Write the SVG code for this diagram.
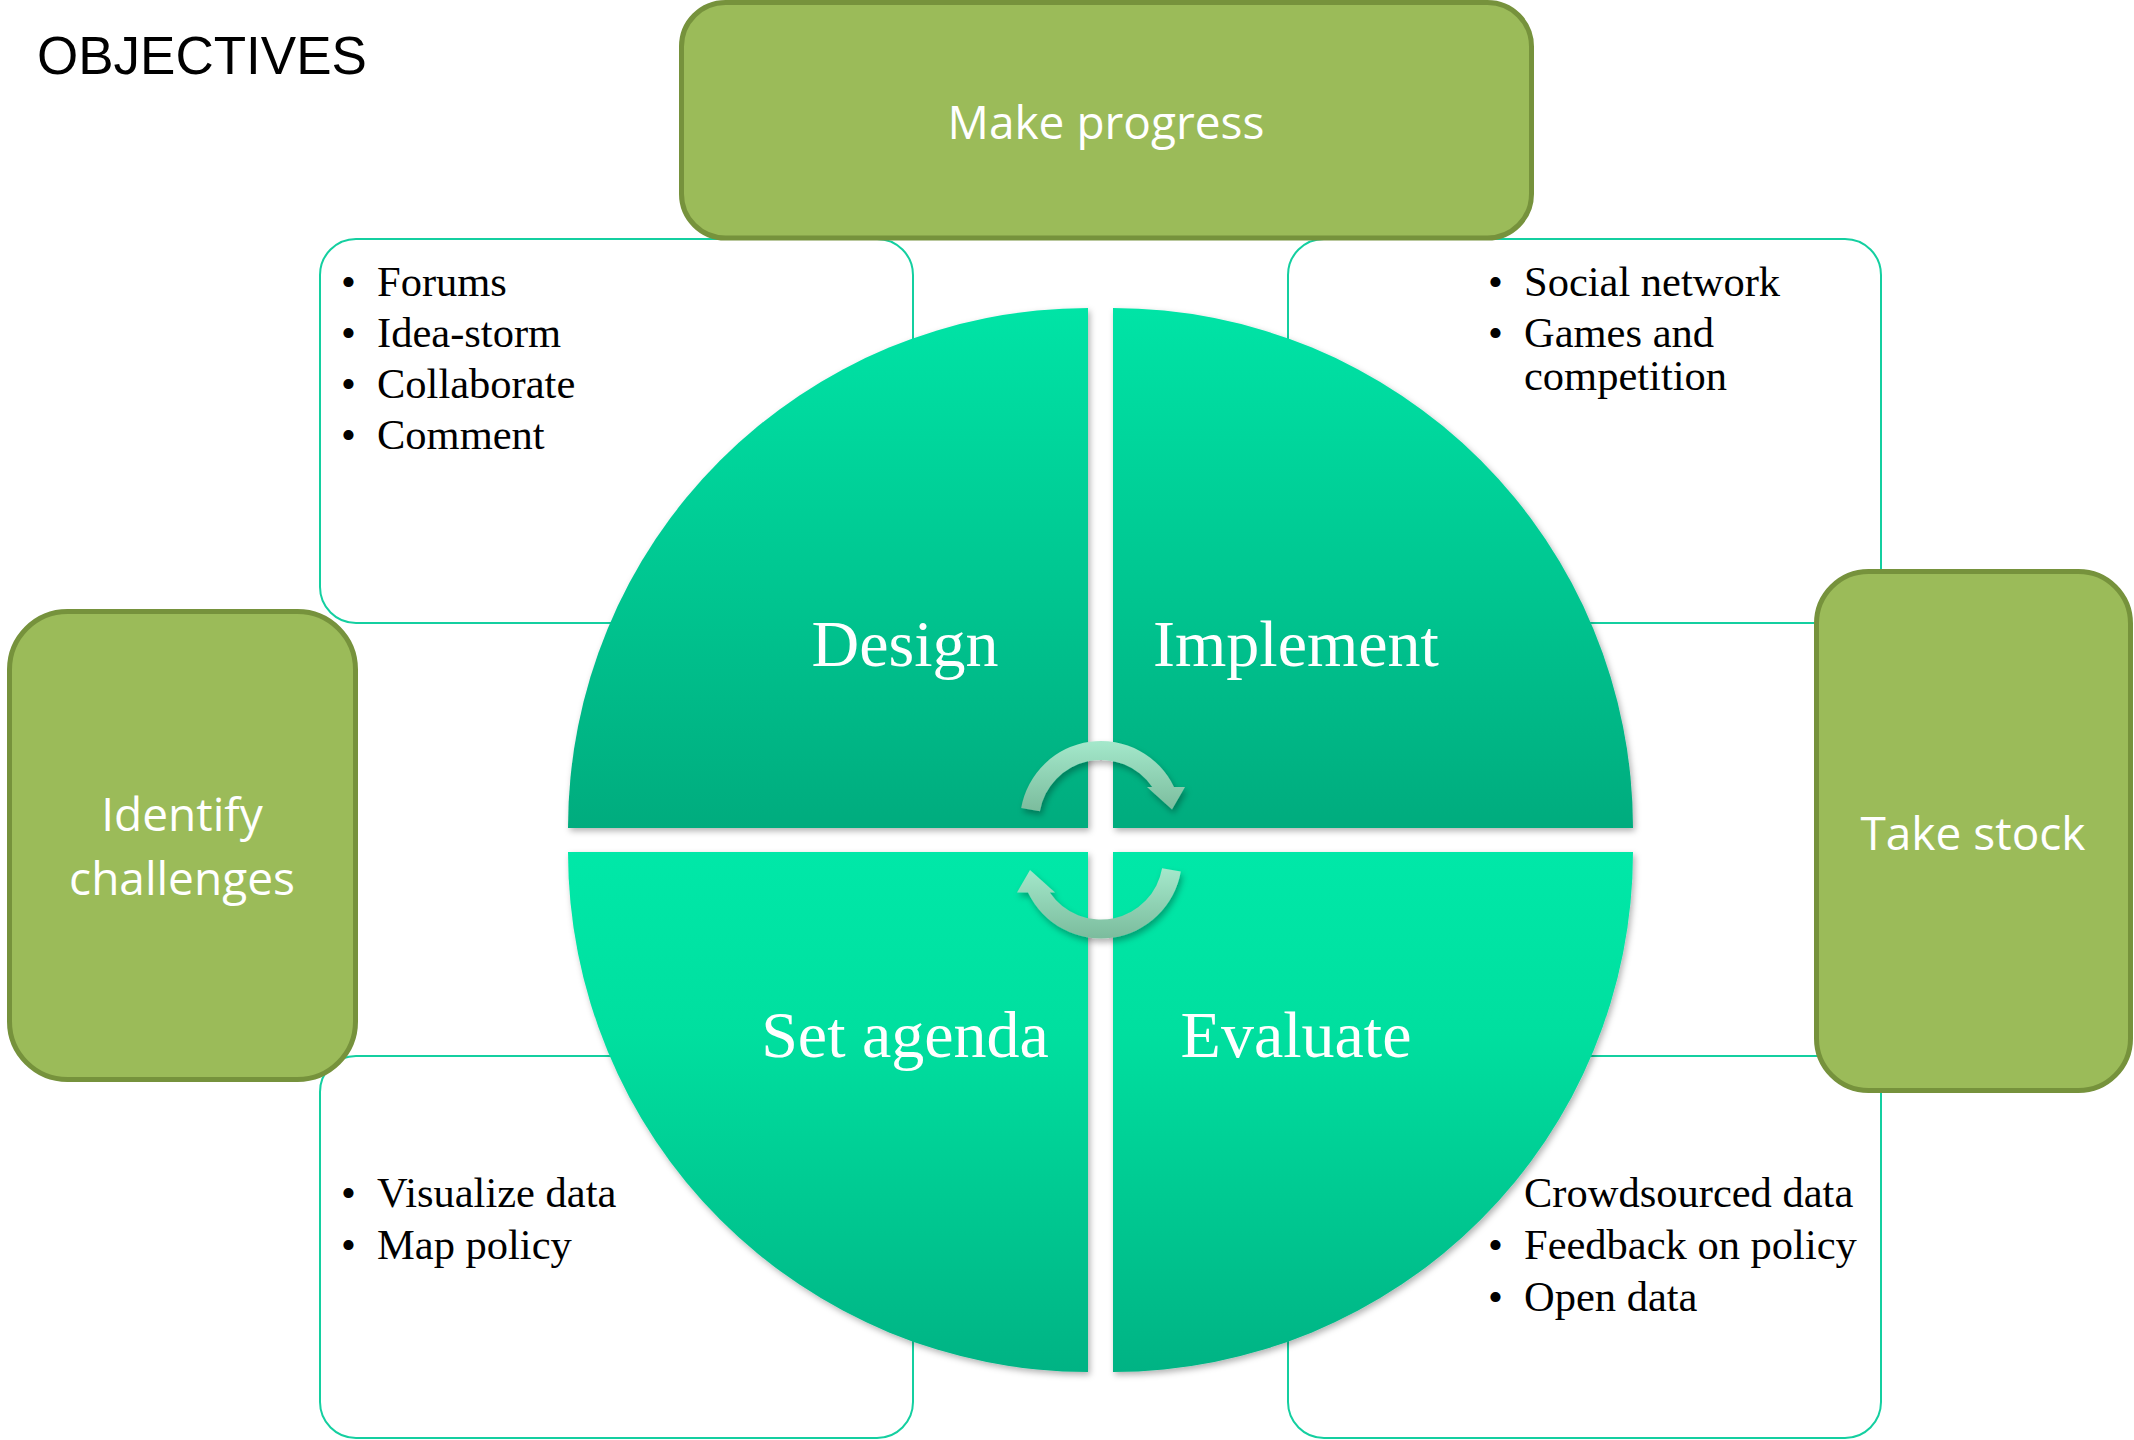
<svg xmlns="http://www.w3.org/2000/svg" width="2134" height="1440" viewBox="0 0 2134 1440">
  <defs>
    <style>
      .panel { fill: #ffffff; stroke: #14CFA0; stroke-width: 2; }
      .goal { fill: #9BBB59; stroke: #76923C; stroke-width: 5; }
      .goal-text { font-family: "Open Sans", "Noto Sans", sans-serif; font-size: 46px; fill: #ffffff; text-anchor: middle; }
      .phase-text { font-family: "Liberation Serif", "Times New Roman", serif; font-size: 66px; fill: #ffffff; text-anchor: middle; }
      .item { font-family: "Liberation Serif", "Times New Roman", serif; font-size: 42.5px; fill: #000000; }
      .title { font-family: "Liberation Sans", Arial, sans-serif; font-size: 53px; fill: #000000; }
    </style>
    <linearGradient id="gradTop" x1="0" y1="0" x2="0" y2="1">
      <stop offset="0" stop-color="#00E4A6"/>
      <stop offset="1" stop-color="#00AC7E"/>
    </linearGradient>
    <linearGradient id="gradBottom" x1="0" y1="0" x2="0" y2="1">
      <stop offset="0" stop-color="#00E8A8"/>
      <stop offset="0.35" stop-color="#00DF9F"/>
      <stop offset="1" stop-color="#00B384"/>
    </linearGradient>
    <linearGradient id="gradArrow" x1="0" y1="0" x2="0" y2="1">
      <stop offset="0" stop-color="#A4E8CB"/>
      <stop offset="1" stop-color="#7BBC9D"/>
    </linearGradient>
    <filter id="softShadow" x="-10%" y="-10%" width="120%" height="120%">
      <feDropShadow dx="2" dy="3" stdDeviation="3" flood-color="#000000" flood-opacity="0.3"/>
    </filter>
    <filter id="arrowShadow" x="-20%" y="-20%" width="140%" height="150%">
      <feDropShadow dx="2" dy="4" stdDeviation="3" flood-color="#000000" flood-opacity="0.3"/>
    </filter>
  </defs>

  <rect x="0" y="0" width="2134" height="1440" fill="#ffffff"/>

  <text class="title" x="37" y="74">OBJECTIVES</text>

  <!-- outlined activity panels (behind everything else) -->
  <g id="panel-design">
    <rect class="panel" x="320" y="239" width="593" height="384" rx="36"/>
    <text class="item" x="341" y="296">•</text><text class="item" x="377" y="296">Forums</text>
    <text class="item" x="341" y="347">•</text><text class="item" x="377" y="347">Idea-storm</text>
    <text class="item" x="341" y="398">•</text><text class="item" x="377" y="398">Collaborate</text>
    <text class="item" x="341" y="449">•</text><text class="item" x="377" y="449">Comment</text>
  </g>
  <g id="panel-implement">
    <rect class="panel" x="1288" y="239" width="593" height="384" rx="36"/>
    <text class="item" x="1488" y="296">•</text><text class="item" x="1524" y="296">Social network</text>
    <text class="item" x="1488" y="347">•</text><text class="item" x="1524" y="347">Games and</text>
    <text class="item" x="1524" y="390">competition</text>
  </g>
  <g id="panel-set-agenda">
    <rect class="panel" x="320" y="1056" width="593" height="382" rx="36"/>
    <text class="item" x="341" y="1207">•</text><text class="item" x="377" y="1207">Visualize data</text>
    <text class="item" x="341" y="1259">•</text><text class="item" x="377" y="1259">Map policy</text>
  </g>
  <g id="panel-evaluate">
    <rect class="panel" x="1288" y="1056" width="593" height="382" rx="36"/>
    <text class="item" x="1524" y="1207">Crowdsourced data</text>
    <text class="item" x="1488" y="1259">•</text><text class="item" x="1524" y="1259">Feedback on policy</text>
    <text class="item" x="1488" y="1311">•</text><text class="item" x="1524" y="1311">Open data</text>
  </g>

  <!-- objective boxes -->
  <g id="goal-make-progress">
    <rect class="goal" x="681.5" y="2.5" width="850" height="235.5" rx="44"/>
    <text class="goal-text" x="1106" y="139">Make progress</text>
  </g>
  <g id="goal-identify-challenges">
    <rect class="goal" x="9.5" y="611.5" width="346" height="468" rx="58"/>
    <text class="goal-text" x="182" y="831">Identify</text>
    <text class="goal-text" x="182" y="895">challenges</text>
  </g>
  <g id="goal-take-stock">
    <rect class="goal" x="1816.5" y="571.5" width="314" height="519" rx="52"/>
    <text class="goal-text" x="1973" y="850">Take stock</text>
  </g>

  <!-- cycle quadrants -->
  <g id="phase-design">
    <path d="M1088 828 L568 828 A520 520 0 0 1 1088 308 Z" fill="url(#gradTop)" filter="url(#softShadow)"/>
    <text class="phase-text" x="905" y="666">Design</text>
  </g>
  <g id="phase-implement">
    <path d="M1113 828 L1113 308 A520 520 0 0 1 1633 828 Z" fill="url(#gradTop)" filter="url(#softShadow)"/>
    <text class="phase-text" x="1296" y="666">Implement</text>
  </g>
  <g id="phase-set-agenda">
    <path d="M1088 852 L1088 1372 A520 520 0 0 1 568 852 Z" fill="url(#gradBottom)" filter="url(#softShadow)"/>
    <text class="phase-text" x="905" y="1057">Set agenda</text>
  </g>
  <g id="phase-evaluate">
    <path d="M1113 852 L1633 852 A520 520 0 0 1 1113 1372 Z" fill="url(#gradBottom)" filter="url(#softShadow)"/>
    <text class="phase-text" x="1296" y="1057">Evaluate</text>
  </g>

  <!-- circular arrows in the middle -->
  <g id="cycle-arrows" fill="url(#gradArrow)" filter="url(#arrowShadow)">
    <path d="M1021.2 807.9 A81 81 0 0 1 1174 787 L1185 787 L1172 809.5 L1147 787 L1152.2 787 A62 62 0 0 0 1039.9 811.2 Z"/>
    <path d="M1180.8 871.6 A81 81 0 0 1 1028 892.5 L1017 892.5 L1030 870 L1055 892.5 L1049.8 892.5 A62 62 0 0 0 1162.1 868.3 Z"/>
  </g>
</svg>
